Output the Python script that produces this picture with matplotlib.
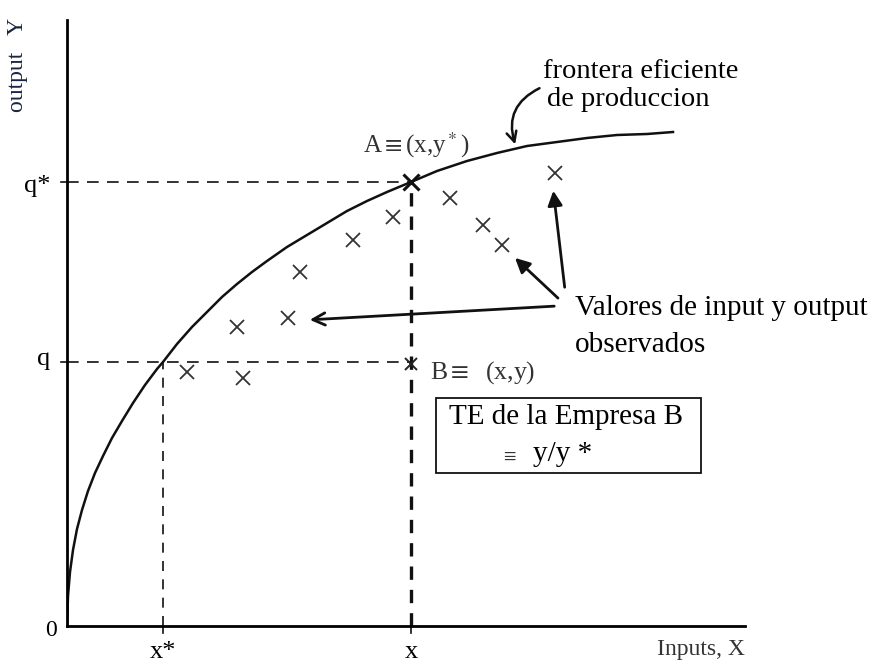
import matplotlib.pyplot as plt
from matplotlib.patches import Rectangle

plt.rcParams['font.family'] = ['Liberation Serif', 'DejaVu Serif']
plt.rcParams['mathtext.fontset'] = 'stix'

# frontera eficiente
frontier_x = [0, 1, 3, 6, 10, 15, 21, 28, 36, 45, 55, 66, 78, 90, 96, 110, 125, 140, 155,
              170, 185, 200, 220, 240, 260, 280, 300, 320, 344, 370, 400, 430, 460, 490,
              520, 550, 580, 606]
frontier_y = [0, 30, 54, 76, 97, 116, 135, 153, 170, 188, 205, 223, 241, 257, 264, 282, 299,
              314, 329, 342, 354, 365, 379, 391, 403, 415, 425, 434, 444, 455, 465, 473,
              480, 484, 488, 491, 492, 494]

# observed firms
obs_x = [120, 176, 170, 221, 233, 286, 326, 383, 416, 435, 488]
obs_y = [254, 248, 299, 308, 354, 386, 409, 428, 401, 381, 453]

# reference points
x_star, x_b = 96, 344
q, q_star = 264, 444
point_a = (x_b, q_star)
point_b = (x_b, 262)

fig = plt.figure(figsize=(8.8, 6.63), dpi=100)
ax = fig.add_axes([67 / 880, 37 / 663, 678 / 880, 606 / 663])
ax.set_xlim(0, 678)
ax.set_ylim(0, 606)

for s in ['top', 'right']:
    ax.spines[s].set_visible(False)
for s in ['left', 'bottom']:
    ax.spines[s].set_linewidth(2)
ax.set_xticks([])
ax.set_yticks([])

# frontier
ax.plot(frontier_x, frontier_y, color='#111111', lw=1.8, solid_joinstyle='round')

# dashed guide lines
ax.plot([0, x_b], [q_star, q_star], color='#111111', lw=1.2, ls=(0, (7, 5)))
ax.plot([0, x_b], [q, q], color='#111111', lw=1.2, ls=(0, (7, 5)))
ax.plot([x_star, x_star], [0, q], color='#111111', lw=1.2, ls=(0, (6, 5)))
ax.plot([x_b, x_b], [0, q_star], color='#111111', lw=2.4, ls=(0, (4, 3)))

# small ticks at the axes
for yy in [q, q_star]:
    ax.plot([-6, 0], [yy, yy], color='#111111', lw=1.2, clip_on=False)
for xx in [x_star, x_b]:
    ax.plot([xx, xx], [-7, 0], color='#111111', lw=1.2, clip_on=False)

# observations
ax.plot(obs_x, obs_y, ls='none', marker='x', ms=9.5, mew=1.3, color='#333333')
ax.plot(*point_b, ls='none', marker='x', ms=9, mew=1.4, color='#222222')
ax.plot(*point_a, ls='none', marker='x', ms=12, mew=2.2, color='#111111')

# axis texts
ax.text(-49, 561, 'output   Y', rotation=90, ha='center', va='center', fontsize=17,
        color='#1a2440', clip_on=False)
ax.text(-17, 440, 'q*', ha='right', va='center', fontsize=19, clip_on=False)
ax.text(-17, 267, 'q', ha='right', va='center', fontsize=19, clip_on=False)
ax.text(-10, -4, '0', ha='right', va='center', fontsize=17, clip_on=False)
ax.text(x_star, -26, 'x*', ha='center', va='center', fontsize=19, clip_on=False)
ax.text(x_b, -26, 'x', ha='center', va='center', fontsize=19, clip_on=False)
ax.text(678, -24, 'Inputs, X', ha='right', va='center', fontsize=17, color='#333333',
        clip_on=False)

# annotations
ax.text(476, 554, 'frontera eficiente', ha='left', va='center', fontsize=20.5)
ax.text(480, 526, 'de produccion', ha='left', va='center', fontsize=20.5)
ax.annotate('', xy=(449, 479), xytext=(475, 539),
            arrowprops=dict(arrowstyle='->', lw=1.8, color='#111111',
                            connectionstyle='arc3,rad=0.45', mutation_scale=18))

ax.text(296, 481, r'A$\equiv$(x,y$^*$)', ha='left', va='center', fontsize=18, color='#333333')
ax.text(363, 253, r'B$\equiv$  (x,y)', ha='left', va='center', fontsize=18.5, color='#333333')

ax.text(508, 318, 'Valores de input y output', ha='left', va='center', fontsize=21)
ax.text(508, 281, 'observados', ha='left', va='center', fontsize=21)
ax.annotate('', xy=(240, 306), xytext=(490, 320),
            arrowprops=dict(arrowstyle='->', lw=2, color='#111111', mutation_scale=22))
ax.annotate('', xy=(446, 370), xytext=(493, 326),
            arrowprops=dict(arrowstyle='-|>', lw=2, color='#111111', mutation_scale=22))
ax.annotate('', xy=(486, 438), xytext=(498, 336),
            arrowprops=dict(arrowstyle='-|>', lw=2, color='#111111', mutation_scale=22))

# TE box
ax.add_patch(Rectangle((369, 153), 265, 75, fill=False, lw=1.3, edgecolor='#111111'))
ax.text(499, 209, 'TE de la Empresa B', ha='center', va='center', fontsize=21)
ax.text(442, 170, r'$\equiv$', ha='center', va='center', fontsize=13, color='#333333')
ax.text(466, 172, 'y/y *', ha='left', va='center', fontsize=21)

fig.savefig('out.png', dpi=100)
